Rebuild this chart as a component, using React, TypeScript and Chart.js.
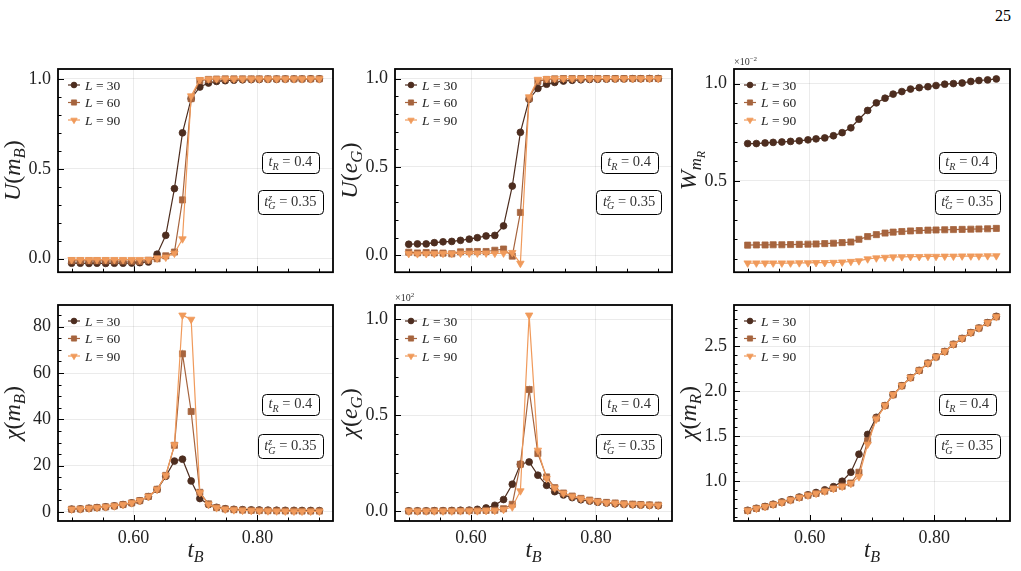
import React, { useEffect, useRef } from 'react';
import { Chart, registerables } from 'chart.js';
Chart.register(...registerables);

// ---------------- data ----------------
const tB = [0.500, 0.514, 0.528, 0.541, 0.555, 0.569, 0.583, 0.597, 0.610, 0.624,
  0.638, 0.652, 0.666, 0.679, 0.693, 0.707, 0.721, 0.734, 0.748, 0.762,
  0.776, 0.790, 0.803, 0.817, 0.831, 0.845, 0.859, 0.872, 0.886, 0.900];

const legendLabels = ['30', '60', '90'];
const xMajorTicks = [0.6, 0.8];
const xMinorTicks = [0.5, 0.55, 0.65, 0.7, 0.75, 0.85, 0.9];

const uMB30 = [-0.025, -0.025, -0.026, -0.025, -0.026, -0.025, -0.025, -0.024, -0.022, -0.018,
  0.025, 0.130, 0.390, 0.700, 0.890, 0.955, 0.977, 0.986, 0.990, 0.993,
  0.995, 0.996, 0.997, 0.998, 0.998, 0.999, 0.999, 0.999, 1.000, 1.000];
const uMB60 = [-0.012, -0.012, -0.012, -0.012, -0.012, -0.013, -0.013, -0.014, -0.015, -0.009,
  0.000, 0.016, 0.037, 0.327, 0.890, 0.990, 0.997, 0.999, 1.000, 1.000,
  1.000, 1.000, 1.000, 1.000, 1.000, 1.000, 1.000, 1.000, 1.000, 1.000];
const uMB90 = [-0.005, -0.005, -0.005, -0.005, -0.005, -0.005, -0.005, -0.005, -0.005, -0.004,
  0.003, 0.008, 0.030, 0.110, 0.905, 0.996, 0.999, 1.000, 1.000, 1.000,
  1.000, 1.000, 1.000, 1.000, 1.000, 1.000, 1.000, 1.000, 1.000, 1.000];

const uEG30 = [0.063, 0.065, 0.065, 0.072, 0.077, 0.079, 0.085, 0.092, 0.100, 0.110,
  0.113, 0.167, 0.392, 0.696, 0.883, 0.944, 0.968, 0.978, 0.986, 0.990,
  0.993, 0.995, 0.996, 0.997, 0.998, 0.998, 0.999, 0.999, 1.000, 1.000];
const uEG60 = [0.018, 0.014, 0.016, 0.014, 0.013, 0.009, 0.020, 0.022, 0.022, 0.022,
  0.029, 0.036, -0.004, 0.243, 0.887, 0.984, 0.995, 0.998, 1.000, 1.000,
  1.000, 1.000, 1.000, 1.000, 1.000, 1.000, 1.000, 1.000, 1.000, 1.000];
const uEG90 = [0.010, 0.009, 0.010, 0.010, 0.011, 0.011, 0.012, 0.012, 0.013, 0.013,
  0.012, 0.013, 0.016, -0.045, 0.896, 0.995, 0.999, 1.000, 1.000, 1.000,
  1.000, 1.000, 1.000, 1.000, 1.000, 1.000, 1.000, 1.000, 1.000, 1.000];

const wMR30 = [0.692, 0.692, 0.695, 0.698, 0.700, 0.703, 0.706, 0.711, 0.716, 0.721,
  0.732, 0.748, 0.773, 0.817, 0.862, 0.901, 0.925, 0.946, 0.959, 0.972,
  0.979, 0.984, 0.990, 0.997, 1.000, 1.003, 1.011, 1.016, 1.019, 1.024];
const wMR60 = [0.170, 0.171, 0.171, 0.172, 0.172, 0.173, 0.174, 0.175, 0.176, 0.178,
  0.180, 0.183, 0.186, 0.200, 0.214, 0.224, 0.232, 0.237, 0.240, 0.243,
  0.245, 0.247, 0.248, 0.249, 0.250, 0.251, 0.252, 0.253, 0.254, 0.256];
const wMR90 = [0.078, 0.078, 0.078, 0.078, 0.078, 0.078, 0.079, 0.079, 0.080, 0.080,
  0.081, 0.083, 0.086, 0.089, 0.099, 0.104, 0.107, 0.109, 0.110, 0.111,
  0.111, 0.112, 0.112, 0.113, 0.113, 0.114, 0.114, 0.114, 0.115, 0.115];

const chiMB30 = [1.2, 1.3, 1.6, 1.9, 2.2, 2.6, 3.2, 3.9, 4.8, 6.6,
  9.7, 15.4, 22.0, 22.8, 13.4, 5.8, 3.2, 2.0, 1.4, 1.15,
  1.0, 0.9, 0.85, 0.8, 0.75, 0.7, 0.7, 0.65, 0.65, 0.6];
const chiMB60 = [1.2, 1.3, 1.6, 1.9, 2.2, 2.6, 3.2, 3.9, 4.9, 6.7,
  9.8, 15.8, 28.8, 68.3, 43.4, 8.5, 3.5, 1.9, 1.3, 1.0,
  0.8, 0.7, 0.6, 0.55, 0.5, 0.45, 0.45, 0.4, 0.4, 0.4];
const chiMB90 = [1.2, 1.3, 1.6, 1.9, 2.2, 2.6, 3.2, 3.9, 4.9, 6.7,
  9.8, 15.8, 29.0, 85.0, 83.2, 8.3, 3.3, 1.8, 1.2, 0.9,
  0.7, 0.6, 0.5, 0.45, 0.4, 0.35, 0.3, 0.3, 0.3, 0.3];

const chiEG30 = [0.001, 0.001, 0.001, 0.002, 0.002, 0.003, 0.004, 0.005, 0.009, 0.016,
  0.030, 0.060, 0.140, 0.244, 0.256, 0.187, 0.134, 0.101, 0.084, 0.070,
  0.059, 0.052, 0.046, 0.042, 0.038, 0.035, 0.033, 0.031, 0.030, 0.028];
const chiEG60 = [0.000, 0.000, 0.000, 0.001, 0.001, 0.001, 0.001, 0.002, 0.002, 0.003,
  0.004, 0.012, 0.035, 0.244, 0.634, 0.300, 0.178, 0.122, 0.094, 0.078,
  0.066, 0.057, 0.050, 0.045, 0.042, 0.038, 0.036, 0.034, 0.032, 0.031];
const chiEG90 = [0.000, 0.000, 0.000, 0.000, 0.000, 0.000, 0.001, 0.001, 0.001, 0.002,
  0.003, 0.008, 0.021, 0.105, 1.022, 0.317, 0.170, 0.120, 0.093, 0.077,
  0.065, 0.056, 0.049, 0.044, 0.041, 0.037, 0.035, 0.033, 0.031, 0.030];

const chiMR30 = [0.678, 0.700, 0.720, 0.745, 0.770, 0.795, 0.825, 0.850, 0.875, 0.905,
  0.940, 1.000, 1.100, 1.300, 1.520, 1.710, 1.840, 1.960, 2.060, 2.150,
  2.230, 2.310, 2.380, 2.440, 2.520, 2.585, 2.650, 2.700, 2.760, 2.830];
const chiMR60 = [0.675, 0.698, 0.718, 0.742, 0.766, 0.792, 0.820, 0.845, 0.865, 0.890,
  0.920, 0.945, 0.980, 1.100, 1.450, 1.700, 1.840, 1.960, 2.060, 2.150,
  2.230, 2.310, 2.380, 2.440, 2.520, 2.585, 2.650, 2.700, 2.760, 2.825];
const chiMR90 = [0.675, 0.698, 0.718, 0.742, 0.766, 0.792, 0.820, 0.845, 0.865, 0.890,
  0.918, 0.943, 0.975, 1.050, 1.410, 1.690, 1.840, 1.960, 2.060, 2.150,
  2.230, 2.310, 2.380, 2.440, 2.520, 2.585, 2.650, 2.700, 2.760, 2.825];

const yTicksU = [0.0, 0.5, 1.0];
const yTicksW = [0.5, 1.0];
const yTicksChiMB = [0, 20, 40, 60, 80];
const yTicksChiEG = [0.0, 0.5, 1.0];
const yTicksChiMR = [1.0, 1.5, 2.0, 2.5];

// ---------------- style ----------------
const SERIF = '"Liberation Serif", "DejaVu Serif", serif';
const COLORS = ['#4d2d1f', '#a6643e', '#f09a5b'];
const STYLES = ['circle', 'rect', 'triangle'];
const RADII = [3.4, 4.3, 4.3];
const ROTS = [0, 0, 180];
const GRID = 'rgba(0,0,0,0.08)';
const TICK_FONT = 18;

const COLS = [{ l: 58, w: 275 }, { l: 395, w: 277 }, { l: 734, w: 276 }];
const ROWS = [{ t: 69, h: 213 }, { t: 305, h: 216 }];
const YW = 58;
const PT = 22;
const PR = 10;

type Seg = { t: string; it?: boolean; s?: number; dy?: number; na?: boolean };

const fontStr = (size: number, it?: boolean) => `${it ? 'italic ' : ''}${size}px ${SERIF}`;

function richWidth(ctx: CanvasRenderingContext2D, segs: Seg[], size: number) {
  let w = 0;
  for (const s of segs) {
    ctx.font = fontStr(size * (s.s ?? 1), s.it);
    if (!s.na) w += ctx.measureText(s.t).width;
  }
  return w;
}

function drawRich(ctx: CanvasRenderingContext2D, segs: Seg[], x: number, y: number, size: number, align: string) {
  const w = richWidth(ctx, segs, size);
  let cx = align === 'center' ? x - w / 2 : align === 'right' ? x - w : x;
  ctx.textAlign = 'left';
  ctx.textBaseline = 'alphabetic';
  for (const s of segs) {
    ctx.font = fontStr(size * (s.s ?? 1), s.it);
    ctx.fillText(s.t, cx, y + (s.dy ?? 0) * size);
    if (!s.na) cx += ctx.measureText(s.t).width;
  }
  return w;
}

function drawMarker(ctx: CanvasRenderingContext2D, style: string, x: number, y: number, r: number, color: string) {
  ctx.save();
  ctx.fillStyle = color;
  ctx.strokeStyle = color;
  ctx.lineWidth = 0.8;
  ctx.beginPath();
  if (style === 'circle') {
    ctx.arc(x, y, r, 0, Math.PI * 2);
  } else if (style === 'rect') {
    const h = r * Math.SQRT1_2;
    ctx.rect(x - h, y - h, 2 * h, 2 * h);
  } else {
    for (let k = 0; k < 3; k++) {
      const a = Math.PI + (k * 2 * Math.PI) / 3;
      const px = x + Math.sin(a) * r;
      const py = y - Math.cos(a) * r;
      if (k === 0) ctx.moveTo(px, py); else ctx.lineTo(px, py);
    }
  }
  ctx.closePath();
  ctx.fill();
  ctx.stroke();
  ctx.restore();
}

function roundRect(ctx: CanvasRenderingContext2D, x: number, y: number, w: number, h: number, r: number) {
  ctx.beginPath();
  ctx.moveTo(x + r, y);
  ctx.lineTo(x + w - r, y);
  ctx.arcTo(x + w, y, x + w, y + r, r);
  ctx.lineTo(x + w, y + h - r);
  ctx.arcTo(x + w, y + h, x + w - r, y + h, r);
  ctx.lineTo(x + r, y + h);
  ctx.arcTo(x, y + h, x, y + h - r, r);
  ctx.lineTo(x, y + r);
  ctx.arcTo(x, y, x + r, y, r);
  ctx.closePath();
}

const SUB = 0.22;
const titleUmB: Seg[] = [{ t: 'U', it: true }, { t: '(' }, { t: 'm', it: true }, { t: 'B', it: true, s: 0.7, dy: SUB }, { t: ')' }];
const titleUeG: Seg[] = [{ t: 'U', it: true }, { t: '(' }, { t: 'e', it: true }, { t: 'G', it: true, s: 0.7, dy: SUB }, { t: ')' }];
const titleW: Seg[] = [{ t: 'W', it: true }, { t: 'm', it: true, s: 0.7, dy: SUB }, { t: 'R', it: true, s: 0.5, dy: 0.36 }];
const titleChiMB: Seg[] = [{ t: 'χ', it: true }, { t: '(' }, { t: 'm', it: true }, { t: 'B', it: true, s: 0.7, dy: SUB }, { t: ')' }];
const titleChiEG: Seg[] = [{ t: 'χ', it: true }, { t: '(' }, { t: 'e', it: true }, { t: 'G', it: true, s: 0.7, dy: SUB }, { t: ')' }];
const titleChiMR: Seg[] = [{ t: 'χ', it: true }, { t: '(' }, { t: 'm', it: true }, { t: 'R', it: true, s: 0.7, dy: SUB }, { t: ')' }];
const xTitle: Seg[] = [{ t: 't', it: true }, { t: 'B', it: true, s: 0.7, dy: SUB }];
const boxTR: Seg[] = [{ t: 't', it: true }, { t: 'R', it: true, s: 0.7, dy: SUB }, { t: ' = 0.4' }];
const boxTG: Seg[] = [{ t: 't', it: true }, { t: 'z', it: true, s: 0.7, dy: -0.38, na: true }, { t: 'G', it: true, s: 0.7, dy: SUB }, { t: ' = 0.35' }];
const multM2: Seg[] = [{ t: '×10' }, { t: '−2', s: 0.7, dy: -0.4 }];
const multP2: Seg[] = [{ t: '×10' }, { t: '2', s: 0.7, dy: -0.4 }];

type Panel = {
  col: number; row: number; series: number[][]; yMin: number; yMax: number;
  yMajor: number[]; yMinorStep: number; dec: number; title: Seg[]; mult: Seg[] | null;
};

const PANELS: Panel[] = [
  { col: 0, row: 0, series: [uMB30, uMB60, uMB90], yMin: -0.075, yMax: 1.055, yMajor: yTicksU, yMinorStep: 0.1, dec: 1, title: titleUmB, mult: null },
  { col: 1, row: 0, series: [uEG30, uEG60, uEG90], yMin: -0.095, yMax: 1.054, yMajor: yTicksU, yMinorStep: 0.1, dec: 1, title: titleUeG, mult: null },
  { col: 2, row: 0, series: [wMR30, wMR60, wMR90], yMin: 0.031, yMax: 1.075, yMajor: yTicksW, yMinorStep: 0.1, dec: 1, title: titleW, mult: multM2 },
  { col: 0, row: 1, series: [chiMB30, chiMB60, chiMB90], yMin: -3.9, yMax: 89.4, yMajor: yTicksChiMB, yMinorStep: 5, dec: 0, title: titleChiMB, mult: null },
  { col: 1, row: 1, series: [chiEG30, chiEG60, chiEG90], yMin: -0.052, yMax: 1.075, yMajor: yTicksChiEG, yMinorStep: 0.1, dec: 1, title: titleChiEG, mult: multP2 },
  { col: 2, row: 1, series: [chiMR30, chiMR60, chiMR90], yMin: 0.559, yMax: 2.956, yMajor: yTicksChiMR, yMinorStep: 0.1, dec: 1, title: titleChiMR, mult: null },
];

function makePlugin(p: Panel) {
  return {
    id: 'decor' + p.col + p.row,
    afterDraw(chart: any) {
      const ctx: CanvasRenderingContext2D = chart.ctx;
      const { left, right, top, bottom } = chart.chartArea;
      const xs = chart.scales.x;
      const ys = chart.scales.y;
      ctx.save();
      // ticks (inward)
      ctx.strokeStyle = '#000';
      ctx.lineWidth = 1;
      const xt = [...xMajorTicks.map(v => [v, 6]), ...xMinorTicks.map(v => [v, 3.5])];
      for (const [v, len] of xt) {
        const px = Math.round(xs.getPixelForValue(v)) + 0.5;
        ctx.beginPath(); ctx.moveTo(px, bottom); ctx.lineTo(px, bottom - len); ctx.stroke();
      }
      const yt: number[][] = p.yMajor.map(v => [v, 6]);
      const start = Math.ceil(p.yMin / p.yMinorStep - 1e-9);
      for (let k = start; k * p.yMinorStep <= p.yMax + 1e-9; k++) {
        const v = k * p.yMinorStep;
        if (p.yMajor.some(m => Math.abs(m - v) < 1e-6)) continue;
        yt.push([v, 3.5]);
      }
      for (const [v, len] of yt) {
        const py = Math.round(ys.getPixelForValue(v)) + 0.5;
        ctx.beginPath(); ctx.moveTo(left, py); ctx.lineTo(left + len, py); ctx.stroke();
      }
      // spine
      ctx.lineWidth = 1.8;
      ctx.strokeRect(left, top, right - left, bottom - top);

      const w = right - left;
      const h = bottom - top;
      // legend
      const rowsY = [16, 33.5, 51];
      for (let k = 0; k < 3; k++) {
        const y = top + rowsY[k];
        ctx.strokeStyle = COLORS[k];
        ctx.lineWidth = 1.2;
        ctx.beginPath(); ctx.moveTo(left + 10, y); ctx.lineTo(left + 22, y); ctx.stroke();
        drawMarker(ctx, STYLES[k], left + 16, y, RADII[k] * 0.85, COLORS[k]);
        ctx.fillStyle = '#222';
        drawRich(ctx, [{ t: 'L', it: true }, { t: ' = ' + legendLabels[k] }], left + 27, y + 4.5, 13.5, 'left');
      }
      // text boxes
      const bx = left + 0.845 * w;
      const boxes: [Seg[], number, number][] = [[boxTR, 0.46, 21], [boxTG, 0.655, 24]];
      for (const [segs, fy, bh] of boxes) {
        const cy = top + fy * h;
        const tw = richWidth(ctx, segs, 14.5);
        const bw = tw + 13;
        roundRect(ctx, Math.round(bx - bw / 2) + 0.5, Math.round(cy - bh / 2) + 0.5, Math.round(bw), bh, 4);
        ctx.fillStyle = '#fff';
        ctx.fill();
        ctx.strokeStyle = '#000';
        ctx.lineWidth = 1;
        ctx.stroke();
        ctx.fillStyle = '#333';
        drawRich(ctx, segs, bx, cy + 4, 14.5, 'center');
      }
      // multiplier
      if (p.mult) {
        ctx.fillStyle = '#333';
        drawRich(ctx, p.mult, left, top - 4, 10, 'left');
      }
      // y title
      ctx.fillStyle = '#222';
      ctx.save();
      ctx.translate(left - 38, (top + bottom) / 2);
      ctx.rotate(-Math.PI / 2);
      drawRich(ctx, p.title, 0, 0, 24, 'center');
      ctx.restore();
      // x title
      if (p.row === 1) {
        drawRich(ctx, xTitle, (left + right) / 2, bottom + 36, 23, 'center');
      }
      ctx.restore();
    },
  };
}

function PanelChart({ p }: { p: Panel }) {
  const ref = useRef<HTMLCanvasElement | null>(null);
  const col = COLS[p.col];
  const row = ROWS[p.row];
  const XH = p.row === 1 ? 52 : 8;
  const cw = YW + col.w + PR;
  const ch = PT + row.h + XH;
  useEffect(() => {
    if (!ref.current) return;
    const chart = new Chart(ref.current, {
      type: 'line',
      data: {
        datasets: p.series.map((d, k) => ({
          label: 'L = ' + legendLabels[k],
          data: tB.map((x, i) => ({ x, y: d[i] })),
          borderColor: COLORS[k],
          backgroundColor: COLORS[k],
          borderWidth: 1.2,
          pointStyle: STYLES[k] as any,
          pointRadius: RADII[k],
          pointRotation: ROTS[k],
          pointBorderWidth: 0.8,
          pointBorderColor: COLORS[k],
          pointBackgroundColor: COLORS[k],
          tension: 0,
          order: 3 - k,
        })),
      },
      options: {
        responsive: false,
        animation: false,
        events: [],
        layout: { padding: { left: 0, top: PT, right: PR, bottom: 0 } },
        plugins: { legend: { display: false }, tooltip: { enabled: false } },
        scales: {
          x: {
            type: 'linear',
            min: 0.478,
            max: 0.922,
            afterBuildTicks: (s: any) => { s.ticks = xMajorTicks.map(v => ({ value: v })); },
            afterFit: (s: any) => { s.height = XH; },
            grid: { color: GRID, drawTicks: false, lineWidth: 1 },
            border: { display: false },
            ticks: {
              display: p.row === 1,
              padding: 6,
              maxRotation: 0,
              autoSkip: false,
              color: '#222',
              font: { family: SERIF, size: TICK_FONT },
              callback: (v: any) => Number(v).toFixed(2),
            },
          },
          y: {
            type: 'linear',
            min: p.yMin,
            max: p.yMax,
            afterBuildTicks: (s: any) => { s.ticks = p.yMajor.map(v => ({ value: v })); },
            afterFit: (s: any) => { s.width = YW; },
            grid: { color: GRID, drawTicks: false, lineWidth: 1 },
            border: { display: false },
            ticks: {
              padding: 7,
              autoSkip: false,
              color: '#222',
              font: { family: SERIF, size: TICK_FONT },
              callback: (v: any) => Number(v).toFixed(p.dec),
            },
          },
        },
      } as any,
      plugins: [makePlugin(p)],
    });
    return () => chart.destroy();
  }, []);
  return (
    <canvas
      ref={ref}
      width={cw}
      height={ch}
      style={{ position: 'absolute', left: col.l - YW, top: row.t - PT, width: cw, height: ch }}
    />
  );
}

export default function App() {
  return (
    <div style={{ position: 'absolute', left: 0, top: 0, width: 1021, height: 571, background: '#fff', overflow: 'hidden' }}>
      <div style={{ position: 'absolute', left: 995, top: 6, fontFamily: SERIF, fontSize: 16, color: '#000', lineHeight: '20px' }}>25</div>
      {PANELS.map((p, i) => <PanelChart key={i} p={p} />)}
    </div>
  );
}
